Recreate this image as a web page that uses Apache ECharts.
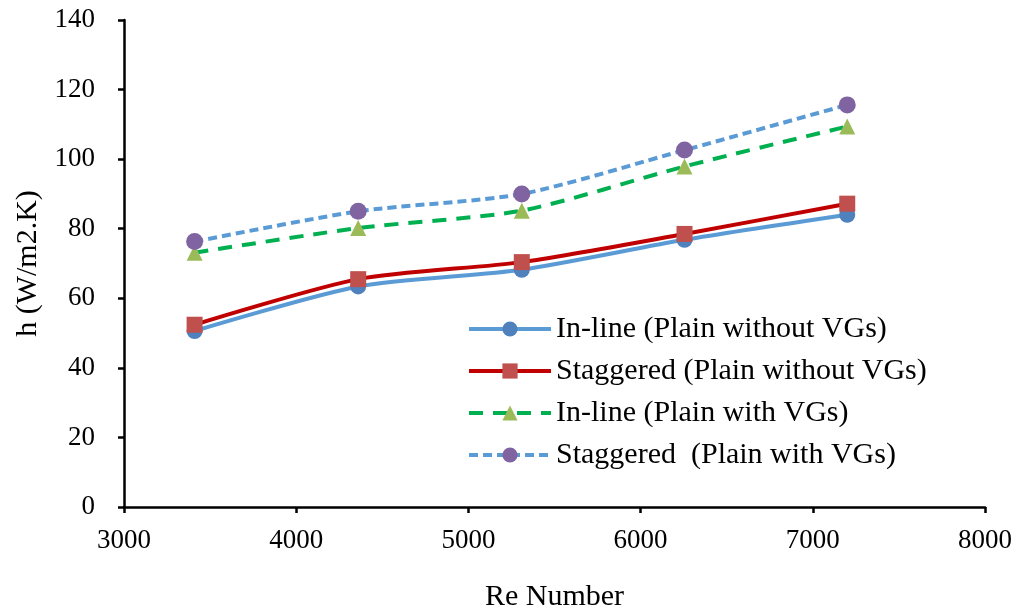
<!DOCTYPE html>
<html><head><meta charset="utf-8">
<script src="https://cdn.jsdelivr.net/npm/echarts@6/dist/echarts.min.js"></script>
<style>html,body{margin:0;padding:0;background:#fff}#c{width:1017px;height:609px}</style>
</head><body><div id="c"></div>
<script>
const reNumbers = [3410, 4360, 5310, 6255, 7200];
const inlinePlain = [50.6, 63.4, 68.2, 76.8, 84.0];
const staggeredPlain = [52.4, 65.5, 70.4, 78.5, 87.2];
const inlineVG = [73.1, 80.2, 85.2, 97.9, 109.4];
const staggeredVG = [76.3, 85.0, 90.0, 102.6, 115.6];
const seriesNames = ['In-line (Plain without VGs)', 'Staggered (Plain without VGs)', 'In-line (Plain with VGs)', 'Staggered  (Plain with VGs)'];

const font = 'Liberation Serif';
function pairs(v){ return reNumbers.map((x,i)=>[x, v[i]]); }

const chart = echarts.init(document.getElementById('c'));
chart.setOption({
  animation: false,
  backgroundColor: '#fff',
  grid: {left: 124, right: 32, top: 20, bottom: 102, outerBoundsMode: 'none', containLabel: false},
  legend: {
    orient: 'vertical', left: 462, top: 309, itemGap: 12,
    itemWidth: 82, itemHeight: 19,
    lineStyle: {width: 4},
    textStyle: {fontFamily: font, fontSize: 30, color: '#000'},
    data: seriesNames
  },
  xAxis: {
    type: 'value', min: 3000, max: 8000, interval: 1000,
    name: 'Re Number', nameLocation: 'middle', nameGap: 75,
    nameTextStyle: {fontFamily: font, fontSize: 30, color: '#000'},
    axisLine: {lineStyle: {color: '#000', width: 2.5}},
    axisTick: {show: true, length: 6, lineStyle: {color: '#000', width: 2.5}},
    axisLabel: {fontFamily: font, fontSize: 27, color: '#000', margin: 20, formatter: v => String(v)},
    splitLine: {show: false}
  },
  yAxis: {
    type: 'value', min: 0, max: 140, interval: 20,
    name: 'h (W/m2.K)', nameLocation: 'middle', nameGap: 79, nameRotate: 90,
    nameTextStyle: {fontFamily: font, fontSize: 30, color: '#000'},
    axisLine: {show: true, lineStyle: {color: '#000', width: 2.5}},
    axisTick: {show: true, length: 6, lineStyle: {color: '#000', width: 2.5}},
    axisLabel: {fontFamily: font, fontSize: 27, color: '#000', margin: 29},
    splitLine: {show: false}
  },
  series: [
    {name: seriesNames[0], type: 'line', smooth: 0.25, data: pairs(inlinePlain),
     symbol: 'circle', symbolSize: 16,
     lineStyle: {color: '#5B9BD5', width: 4}, itemStyle: {color: '#4F81BD'}},
    {name: seriesNames[1], type: 'line', smooth: 0.25, data: pairs(staggeredPlain),
     symbol: 'rect', symbolSize: 16,
     lineStyle: {color: '#C00000', width: 4}, itemStyle: {color: '#C0504D'}},
    {name: seriesNames[2], type: 'line', smooth: 0.25, data: pairs(inlineVG),
     symbol: 'triangle', symbolSize: 16,
     lineStyle: {color: '#00B050', width: 4, type: [14, 10]}, itemStyle: {color: '#9BBB59'}},
    {name: seriesNames[3], type: 'line', smooth: 0.25, data: pairs(staggeredVG),
     symbol: 'circle', symbolSize: 17,
     lineStyle: {color: '#5B9BD5', width: 4, type: [9, 5]}, itemStyle: {color: '#8064A2'}}
  ]
});
</script></body></html>
